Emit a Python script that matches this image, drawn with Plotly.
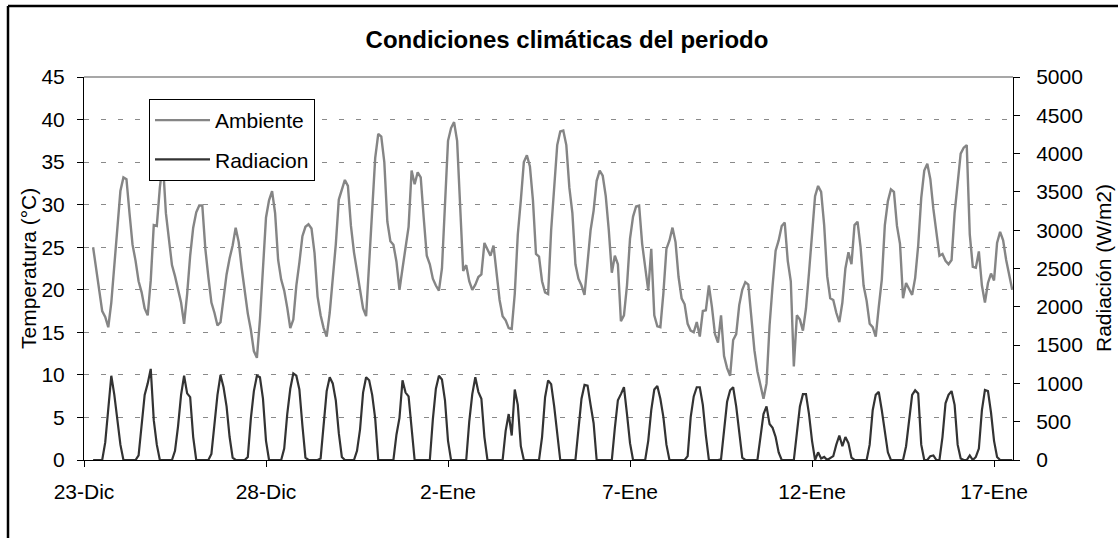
import pandas as pd
import plotly.graph_objects as go

# ---------------- data (2-hourly samples, 23-Dic 06:00 -> 17-Ene 12:00) ----------------
start_time = "2007-12-23 06:00"
step = "2h"

# Ambient temperature (°C), one line per day
ambiente = [
    25.0, 22.5, 19.8, 17.5, 16.8, 15.6, 18.5, 22.6, 27.7,                    # 23-Dic (06-22h)
    31.6, 33.2, 33.0, 29.0, 25.3, 23.4, 21.0, 19.7, 17.8, 17.0, 21.1, 27.6,  # 24-Dic
    27.5, 32.0, 35.0, 29.0, 26.0, 22.9, 21.6, 20.2, 18.5, 16.0, 19.5, 24.0,  # 25-Dic
    27.3, 29.1, 29.9, 29.9, 24.8, 21.5, 18.5, 17.3, 15.8, 16.2, 19.3, 21.8,  # 26-Dic
    23.7, 25.2, 27.3, 25.6, 22.5, 19.7, 17.2, 15.3, 12.8, 12.0, 16.5, 22.5,  # 27-Dic
    28.5, 30.5, 31.6, 29.0, 23.5, 21.2, 19.9, 17.9, 15.5, 16.5, 20.5, 23.2,  # 28-Dic
    26.3, 27.4, 27.7, 27.2, 24.3, 19.2, 17.0, 15.5, 14.5, 17.3, 21.5, 25.3,  # 29-Dic
    30.6, 31.8, 32.9, 32.2, 27.5, 24.4, 22.2, 19.5, 17.8, 16.9, 23.5, 28.5,  # 30-Dic
    35.5, 38.3, 38.0, 35.0, 28.0, 25.7, 25.3, 23.3, 20.0, 22.5, 25.0, 27.4,  # 31-Dic
    34.0, 32.4, 33.8, 33.2, 28.4, 24.0, 23.0, 21.3, 20.5, 19.9, 22.5, 31.0,  # 1-Ene
    37.5, 39.0, 39.7, 37.5, 30.5, 22.2, 22.9, 21.0, 20.0, 20.6, 21.5, 21.8,  # 2-Ene
    25.5, 24.7, 24.0, 25.2, 22.3, 18.8, 16.9, 16.4, 15.5, 15.4, 19.5, 26.5,  # 3-Ene
    30.5, 35.0, 35.8, 34.5, 30.5, 24.2, 23.9, 21.0, 19.7, 19.5, 27.0, 31.5,  # 4-Ene
    37.0, 38.6, 38.7, 37.0, 32.0, 29.0, 23.0, 21.3, 20.5, 19.4, 23.5, 27.0,  # 5-Ene
    29.3, 32.8, 34.0, 33.4, 31.0, 27.0, 22.0, 24.0, 23.0, 16.3, 17.0, 20.5,  # 6-Ene
    26.0, 28.6, 29.8, 29.9, 25.4, 22.7, 19.9, 24.8, 17.0, 15.7, 15.6, 19.6,  # 7-Ene
    24.8, 25.8, 27.3, 25.6, 21.5, 19.0, 18.3, 16.0, 15.2, 15.0, 16.2, 14.5,  # 8-Ene
    17.5, 17.6, 20.5, 18.0, 14.8, 13.8, 17.0, 12.2, 10.8, 9.9, 14.1, 14.8,   # 9-Ene
    18.2, 20.0, 20.9, 20.6, 16.3, 12.9, 10.4, 8.8, 7.2, 9.0, 15.8, 20.5,     # 10-Ene
    24.6, 25.8, 27.5, 27.9, 23.4, 21.0, 11.0, 17.0, 16.5, 15.2, 17.8, 22.0,  # 11-Ene
    26.8, 31.0, 32.2, 31.5, 27.6, 21.6, 19.0, 18.8, 17.3, 16.2, 18.5, 22.5,  # 12-Ene
    24.4, 23.0, 27.6, 28.0, 25.0, 20.5, 18.7, 16.0, 15.6, 14.5, 18.0, 21.2,  # 13-Ene
    27.6, 30.4, 31.8, 31.5, 27.5, 25.4, 19.0, 20.8, 20.1, 19.4, 21.4, 25.2,  # 14-Ene
    30.8, 34.0, 34.8, 33.0, 29.5, 26.6, 24.0, 24.2, 23.4, 23.0, 23.5, 29.0,  # 15-Ene
    32.3, 36.0, 36.7, 37.0, 26.5, 22.7, 22.6, 24.5, 20.5, 18.5, 20.8, 21.9,  # 16-Ene
    21.1, 25.5, 26.8, 25.8, 23.5, 21.8, 20.0,                                # 17-Ene (00-12h)
]

# Solar radiation (W/m2), one line per day
radiacion = [
    0, 0, 0, 0, 230, 620, 1100, 850, 530,                          # 23-Dic (06-22h)
    200, 0, 0, 0, 0, 0, 60, 420, 850, 1000, 1190, 520,             # 24-Dic
    200, 0, 0, 0, 0, 0, 120, 440, 850, 1100, 870, 820,             # 25-Dic
    300, 0, 0, 0, 0, 0, 80, 430, 850, 1110, 950, 700,              # 26-Dic
    300, 30, 0, 0, 0, 0, 40, 540, 900, 1100, 1080, 800,            # 27-Dic
    250, 0, 0, 0, 0, 0, 150, 600, 930, 1130, 1100, 920,            # 28-Dic
    450, 30, 0, 0, 0, 0, 20, 520, 900, 1080, 1000, 780,            # 29-Dic
    350, 40, 0, 0, 0, 0, 120, 400, 880, 1080, 1040, 850,           # 30-Dic
    540, 0, 0, 0, 0, 0, 0, 330, 550, 1040, 880, 830,               # 31-Dic
    450, 0, 0, 0, 0, 0, 0, 530, 930, 1100, 1050, 780,              # 1-Ene
    250, 0, 0, 0, 0, 0, 0, 500, 860, 1080, 890, 800,               # 2-Ene
    300, 0, 0, 0, 0, 0, 0, 380, 600, 320, 920, 720,                # 3-Ene
    180, 0, 0, 0, 0, 0, 0, 300, 820, 1040, 990, 700,               # 4-Ene
    340, 0, 0, 0, 0, 0, 0, 400, 800, 980, 970, 720,                # 5-Ene
    480, 0, 0, 0, 0, 0, 0, 420, 780, 860, 950, 600,                # 6-Ene
    220, 0, 0, 0, 0, 0, 250, 650, 920, 965, 800, 560,              # 7-Ene
    200, 0, 0, 0, 0, 0, 0, 50, 560, 830, 950, 950,                 # 8-Ene
    720, 320, 0, 0, 0, 0, 10, 420, 760, 910, 950, 700,             # 9-Ene
    400, 30, 0, 0, 0, 0, 0, 300, 600, 700, 470, 420,               # 10-Ene
    300, 100, 0, 0, 0, 0, 0, 350, 700, 860, 860, 600,              # 11-Ene
    250, 0, 100, 20, 40, 0, 20, 50, 200, 320, 180, 300,            # 12-Ene
    220, 30, 0, 0, 0, 0, 0, 200, 650, 850, 890, 650,               # 13-Ene
    350, 100, 0, 0, 0, 0, 0, 180, 500, 850, 910, 870,              # 14-Ene
    200, 0, 0, 50, 60, 0, 0, 300, 740, 850, 900, 720,              # 15-Ene
    200, 20, 0, 0, 60, 0, 40, 150, 650, 915, 900, 620,             # 16-Ene
    250, 40, 0, 0, 0, 0, 0,                                        # 17-Ene (00-12h)
]

tick_dates = ["2007-12-23", "2007-12-28", "2008-01-02", "2008-01-07", "2008-01-12", "2008-01-17"]
tick_labels = ["23-Dic", "28-Dic", "2-Ene", "7-Ene", "12-Ene", "17-Ene"]
x_range = ["2007-12-23 00:00", "2008-01-17 12:30"]

temp_ticks = list(range(0, 46, 5))
rad_ticks = list(range(0, 5001, 500))

title_text = "Condiciones climáticas del periodo"
left_title = "Temperatura (°C)"
right_title = "Radiación (W/m2)"

# ---------------- figure ----------------
times = pd.date_range(start=start_time, periods=len(ambiente), freq=step)
times_rad = pd.date_range(start=start_time, periods=len(radiacion), freq=step)

FONT = "Liberation Sans, Arial, sans-serif"
W, H = 1118, 538
ML, MR, MT, MB = 84, 105, 77, 78
PW, PH = W - ML - MR, H - MT - MB


def px_x(px):
    return (px - ML) / PW


def px_y(py):
    return (H - MB - py) / PH


fig = go.Figure()
fig.add_trace(go.Scatter(
    x=times, y=ambiente, name="Ambiente", mode="lines",
    line=dict(color="#858585", width=2.4), legendgroup="a",
))
fig.add_trace(go.Scatter(
    x=times_rad, y=radiacion, name="Radiacion", mode="lines", yaxis="y2",
    line=dict(color="#333333", width=2.2), legendgroup="b",
))

fig.update_layout(
    width=W, height=H,
    margin=dict(l=ML, r=MR, t=MT, b=MB, pad=0),
    paper_bgcolor="white", plot_bgcolor="white",
    font=dict(family=FONT, size=21, color="black"),
    showlegend=True,
    legend=dict(
        x=px_x(149), y=px_y(99), xanchor="left", yanchor="top",
        bordercolor="black", borderwidth=1, bgcolor="white",
        font=dict(size=21), traceorder="grouped", tracegroupgap=9,
        itemwidth=55,
    ),
    title=dict(
        text="<b>" + title_text + "</b>", font=dict(size=24, family=FONT),
        x=567 / W, xref="container", xanchor="center",
        y=1 - 40 / H, yref="container", yanchor="middle",
    ),
    xaxis=dict(
        type="date", range=x_range,
        tickvals=tick_dates, ticktext=tick_labels,
        showgrid=False, zeroline=False,
        showline=True, linecolor="black", linewidth=1,
        ticks="outside", ticklen=6, tickcolor="black",
        ticklabelstandoff=7,
    ),
    yaxis=dict(
        range=[0, 45], tickvals=temp_ticks,
        showgrid=True, gridcolor="#8a8a8a", gridwidth=1, griddash="5px,12px",
        zeroline=False,
        showline=True, linecolor="black", linewidth=1,
        ticks="outside", ticklen=6, tickcolor="black",
        ticklabelstandoff=8,
    ),
    yaxis2=dict(
        range=[0, 5000], tickvals=rad_ticks, overlaying="y", side="right",
        showgrid=False, zeroline=False,
        showline=True, linecolor="black", linewidth=1,
        ticks="outside", ticklen=6, tickcolor="black",
        ticklabelstandoff=12,
    ),
    shapes=[
        # plot-area top border (grey)
        dict(type="line", xref="paper", yref="paper", x0=0, x1=1, y0=1, y1=1,
             line=dict(color="#8a8a8a", width=1.5)),
        # outer chart frame (left and top, the rest runs off the picture)
        dict(type="line", xref="paper", yref="paper",
             x0=px_x(8), x1=px_x(8), y0=px_y(6), y1=px_y(560),
             line=dict(color="black", width=2.5)),
        dict(type="line", xref="paper", yref="paper",
             x0=px_x(8), x1=px_x(1130), y0=px_y(6), y1=px_y(6),
             line=dict(color="black", width=2.5)),
    ],
    annotations=[
        dict(text=left_title, textangle=-90, xref="paper", yref="paper",
             x=px_x(28), y=px_y(269), xanchor="center", yanchor="middle",
             showarrow=False, font=dict(size=21)),
        dict(text=right_title, textangle=-90, xref="paper", yref="paper",
             x=px_x(1103), y=px_y(268), xanchor="center", yanchor="middle",
             showarrow=False, font=dict(size=21)),
    ],
)

fig.write_html(
    "out.html",
    config={"displayModeBar": False},
    post_script="document.body.style.margin='0';document.body.style.overflow='hidden';",
)
